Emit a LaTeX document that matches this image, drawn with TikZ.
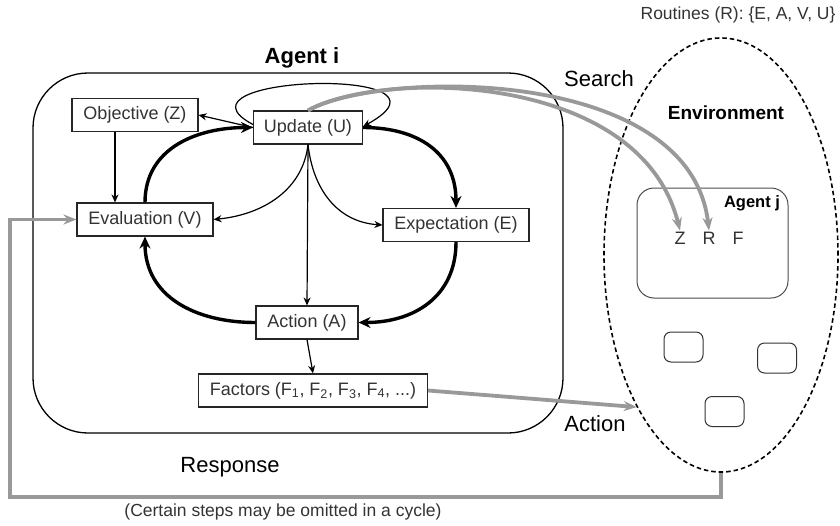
\documentclass[tikz,border=0pt]{standalone}
\usepackage{fontspec}
\setmainfont{Liberation Sans}
\usepackage{tikz}
\usetikzlibrary{arrows.meta,positioning,shapes.geometric}

\begin{document}
\begin{tikzpicture}[x=1pt,y=-1pt,
  box/.style={draw=black!85,line width=1.1pt,fill=white,minimum height=33pt,inner sep=0pt,
    text=black!80,font=\fontsize{18}{21}\selectfont},
  thinarr/.style={line width=1.2pt,-{Stealth[length=8pt,width=7pt]}},
  cycarr/.style={line width=3.4pt,-{Stealth[length=12pt,width=11pt]}},
  grayarr/.style={draw=black!40,line width=3.8pt,-{Stealth[length=13pt,width=10pt]}},
  biglbl/.style={font=\fontsize{22}{26}\selectfont},
  minibox/.style={draw=black!80,line width=1pt,rounded corners=7pt,minimum width=39pt,minimum height=30pt}]
  \useasboundingbox (0,0) rectangle (840,525);
  \node[draw,line width=1.3pt,rounded corners=55pt,minimum width=530pt,minimum height=360pt] (agi) at (298,253) {};
  \node[font=\bfseries\fontsize{22}{26}\selectfont] (agilbl) at (302,58) {Agent i};
  \node[draw,dash pattern=on 4.5pt off 3pt,line width=1.6pt,ellipse,minimum width=234pt,minimum height=434pt] (env) at (721,255) {};
  \node[font=\fontsize{17.5}{20}\selectfont,anchor=east,text=black!80] (rout) at (839,15) {Routines (R): \{E, A, V, U\}};
  \node[font=\bfseries\fontsize{19}{22}\selectfont] (envlbl) at (726,113) {Environment};
  \node[draw=black!70,line width=1pt,rounded corners=17pt,minimum width=151pt,minimum height=110pt] (agj) at (712.5,243) {};
  \node[font=\bfseries\fontsize{16.5}{19}\selectfont] (agjlbl) at (752,203) {Agent j};
  \node[font=\fontsize{18}{21}\selectfont,text=black!80,inner sep=1pt] (zz) at (680,238) {Z};
  \node[font=\fontsize{18}{21}\selectfont,text=black!80,inner sep=1pt] (rr) at (709,238) {R};
  \node[font=\fontsize{18}{21}\selectfont,text=black!80,inner sep=1pt] (ff) at (738,238) {F};
  \node[minibox] (m1) at (683.5,347) {};
  \node[minibox] (m2) at (777,358) {};
  \node[minibox] (m3) at (724.5,411.5) {};

  \node[box,minimum width=126pt] (Z) at (135,115) {Objective (Z)};
  \node[box,minimum width=109pt] (U) at (308,127.5) {Update (U)};
  \node[box,minimum width=136pt] (V) at (145,219.5) {Evaluation (V)};
  \node[box,minimum width=146pt] (E) at (456,225) {Expectation (E)};
  \node[box,minimum width=102pt] (A) at (307,322.5) {Action (A)};
  \node[box,minimum width=229pt] (F) at (313,390.5) {Factors (F\textsubscript{1}, F\textsubscript{2}, F\textsubscript{3}, F\textsubscript{4}, ...)};

  \node[biglbl] (srch) at (599,79) {Search};
  \node[biglbl] (actlbl) at (595,424) {Action};
  \node[biglbl] (resp) at (230,467) {Response};
  \node[font=\fontsize{17.5}{20}\selectfont,text=black!80] (note) at (283,512) {(Certain steps may be omitted in a cycle)};

  \draw[thinarr] ([yshift=3pt]U.west) .. controls (160,75) and (475,65) .. ([yshift=1pt]U.east);
  \draw[cycarr] (V.north) .. controls +(0,-55) and +(-55,0) .. (U.west);
  \draw[cycarr] (U.east) .. controls +(55,0) and +(0,-55) .. (E.north);
  \draw[cycarr] (E.south) .. controls +(0,55) and +(55,0) .. (A.east);
  \draw[cycarr] (A.west) .. controls +(-60,0) and +(0,60) .. (V.south);
  \draw[thinarr] (U.west) -- (Z.east);
  \draw[thinarr] ([xshift=-20pt]Z.south) -- ([xshift=-30pt]V.north);
  \draw[thinarr] (U.south) .. controls +(-5,45) and +(50,-5) .. (V.east);
  \draw[thinarr] (U.south) .. controls +(5,45) and +(-45,-3) .. (E.west);
  \draw[thinarr] (U.south) -- (A.north);
  \draw[thinarr] (A.south) -- (F.north);

  \draw[grayarr] (U.north) .. controls (380,70) and (640,70) .. (zz.north);
  \draw[grayarr] (U.north) .. controls (380,70) and (690,65) .. (rr.north);
  \draw[grayarr] (F.east) -- (env.241);
  \coordinate (fb) at (10,497);
  \draw[grayarr] (env.south) |- (fb) |- (V.west);
\end{tikzpicture}
\end{document}
